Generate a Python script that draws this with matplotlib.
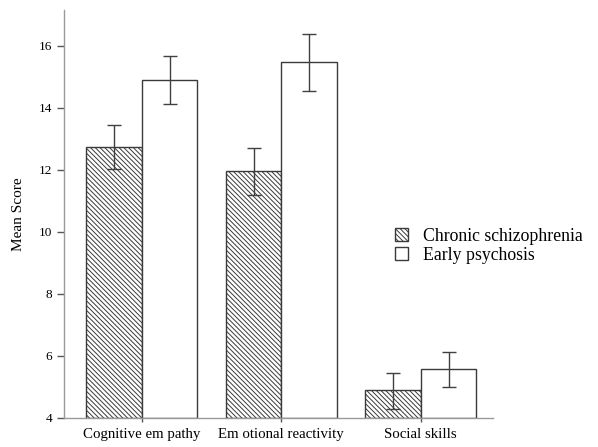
import numpy as np
import matplotlib
matplotlib.use("Agg")
import matplotlib.pyplot as plt

# === data ===
categories = ["Cognitive empathy", "Emotional reactivity", "Social skills"]
tick_labels = ["Cognitive em pathy", "Em otional reactivity", "Social skills"]
chronic_mean = [12.75, 11.95, 4.89]
chronic_lo = [12.03, 11.19, 4.30]
chronic_hi = [13.44, 12.71, 5.45]
early_mean = [14.89, 15.47, 5.58]
early_lo = [14.13, 14.55, 5.01]
early_hi = [15.67, 16.39, 6.14]
series_labels = ["Chronic schizophrenia", "Early psychosis"]

plt.rcParams['font.family'] = ['Liberation Serif', 'DejaVu Serif']
plt.rcParams['hatch.linewidth'] = 0.7
plt.rcParams['hatch.color'] = '#444444'

fig = plt.figure(figsize=(5.98, 4.47), dpi=100)
ax = fig.add_axes([0.107, 0.065, 0.717, 0.913])

x = np.arange(len(categories))
w = 0.398
edge = '#3a3a3a'

c_err = [np.array(chronic_mean) - np.array(chronic_lo), np.array(chronic_hi) - np.array(chronic_mean)]
e_err = [np.array(early_mean) - np.array(early_lo), np.array(early_hi) - np.array(early_mean)]

ax.bar(x - w / 2, np.array(chronic_mean) - 4, w, bottom=4, color='white', edgecolor=edge,
       hatch='\\' * 7, linewidth=1.0, label=series_labels[0])
ax.bar(x + w / 2, np.array(early_mean) - 4, w, bottom=4, color='white', edgecolor=edge,
       linewidth=1.0, label=series_labels[1])
ax.errorbar(x - w / 2, chronic_mean, yerr=c_err, fmt='none', ecolor='#404040',
            elinewidth=1.0, capsize=4.7, capthick=1.0)
ax.errorbar(x + w / 2, early_mean, yerr=e_err, fmt='none', ecolor='#404040',
            elinewidth=1.0, capsize=4.7, capthick=1.0)

ax.set_xlim(-0.559, 2.516)
ax.set_ylim(4, 17.16)
ax.set_yticks([4, 6, 8, 10, 12, 14, 16])
ax.set_xticks(x)
ax.set_xticklabels(tick_labels, fontsize=10.7)
ax.tick_params(axis='y', labelsize=9.5, length=5, color='#555555', width=1)
ax.tick_params(axis='x', length=3, color='#555555', width=1, pad=4)
ax.set_ylabel("Mean Score", fontsize=11, labelpad=10)

for s in ['top', 'right']:
    ax.spines[s].set_visible(False)
for s in ['left', 'bottom']:
    ax.spines[s].set_color('#999999')
    ax.spines[s].set_linewidth(1.0)

leg = ax.legend(loc='upper left', bbox_to_anchor=(0.772, 0.465), frameon=False,
                fontsize=12.8, handlelength=0.75, handleheight=0.75, handletextpad=0.8,
                labelspacing=0.1, borderaxespad=0, borderpad=0)

fig.savefig("out.png", dpi=100)
